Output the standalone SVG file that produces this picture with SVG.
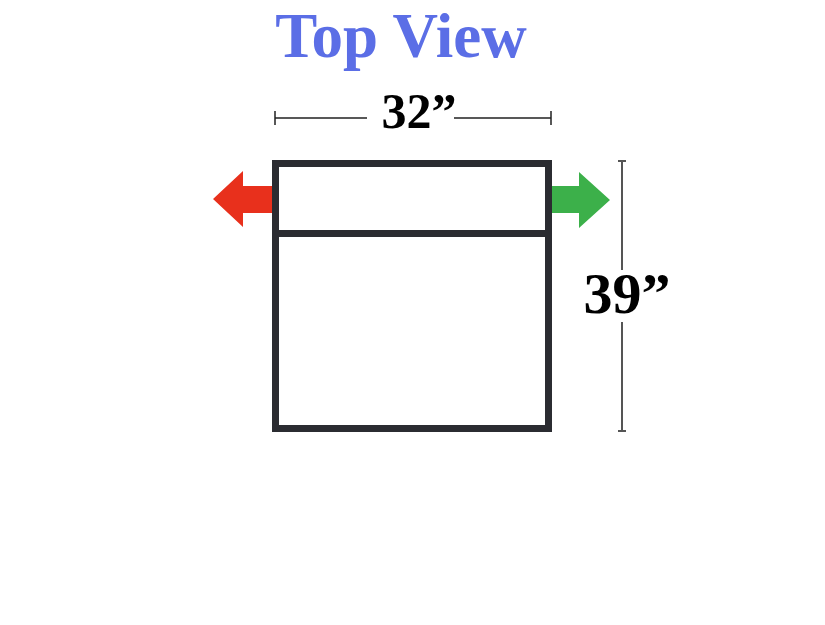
<svg xmlns="http://www.w3.org/2000/svg" width="825" height="625" viewBox="0 0 825 625">
<style>
.dim{stroke:#222;stroke-width:1.5;fill:none}
.vdim{stroke:#555;stroke-width:2;fill:none}
.lbl{font-family:"Liberation Serif",serif;font-weight:bold;fill:#000}
</style>
<rect width="825" height="625" fill="#fff"/>
<text x="401" y="57" text-anchor="middle" font-family="Liberation Serif, serif" font-weight="bold" font-size="63" fill="#5b6ee6">Top View</text>
<g id="width-dim">
<path class="dim" d="M275,118H367M454,118H551M275,111V125M551,111V125"/>
<text class="lbl" x="419" y="128" text-anchor="middle" font-size="50">32”</text>
</g>
<g id="depth-dim">
<path class="vdim" d="M622,161V270M622,322V431M618,161H626M618,431H626"/>
<text class="lbl" x="627" y="313" text-anchor="middle" font-size="58">39”</text>
</g>
<g id="box">
<rect x="275.5" y="163.5" width="273" height="265" fill="#fff" stroke="#2b2c31" stroke-width="7"/>
<line x1="275" y1="233.5" x2="549" y2="233.5" stroke="#2b2c31" stroke-width="7"/>
</g>
<g id="arrows">
<polygon points="272,186 243,186 243,171 213,199 243,227 243,213 272,213" fill="#e8301c"/>
<polygon points="552,186 579,186 579,172 610,200 579,228 579,213 552,213" fill="#3cb04a"/>
</g>
</svg>
